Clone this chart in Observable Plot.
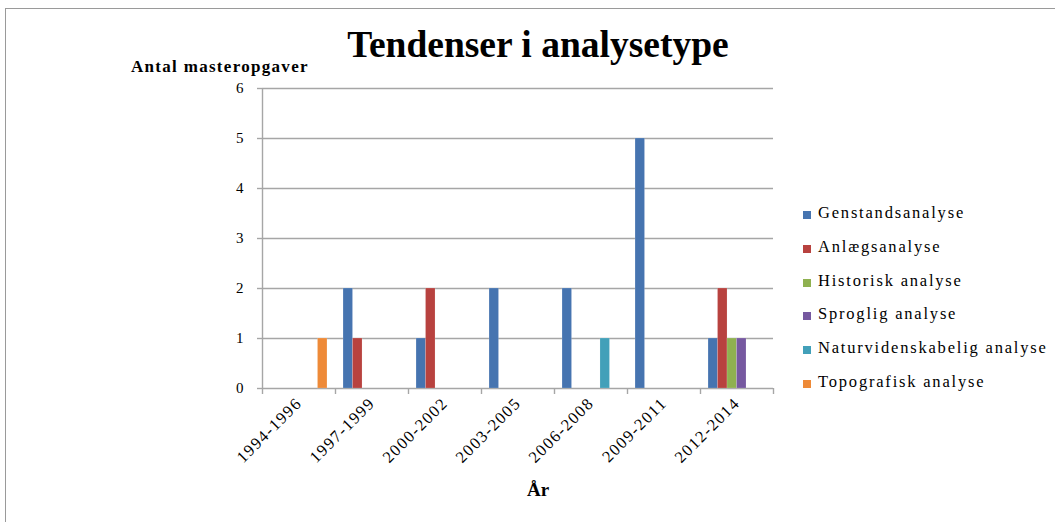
<!DOCTYPE html>
<html>
<head>
<meta charset="utf-8">
<script src="https://cdn.jsdelivr.net/npm/d3@7"></script>
<script src="https://cdn.jsdelivr.net/npm/@observablehq/plot@0.6"></script>
<style>
  html, body { margin: 0; padding: 0; background: #fff; }
  #wrap { position: relative; width: 1055px; height: 522px; overflow: hidden; font-family: "Liberation Serif", "Times New Roman", serif; color: #000; }
  #frame { position: absolute; left: 5px; top: 8px; width: 1100px; height: 600px; border-top: 1.5px solid #9a9a9a; border-left: 1.5px solid #9a9a9a; }
  #title { position: absolute; left: 0; width: 1076px; top: 23px; text-align: center; font-size: 37.5px; font-weight: bold; }
  #ylab { position: absolute; left: 131px; top: 57px; font-size: 17px; font-weight: bold; letter-spacing: 1.3px; }
  #xlab { position: absolute; left: 0; width: 1076px; top: 479px; text-align: center; font-size: 19px; font-weight: bold; }
  #legend { position: absolute; left: 803px; top: 203px; font-size: 16.5px; letter-spacing: 1.8px; }
  .li { height: 33.8px; display: flex; align-items: flex-start; white-space: nowrap; }
  .sw { width: 8px; height: 8px; margin-right: 7px; margin-top: 8px; }
  #chart { position: absolute; left: 0; top: 0; }
</style>
</head>
<body>
<div id="wrap">
  <div id="frame"></div>
  <div id="chart"></div>
  <div id="title">Tendenser i analysetype</div>
  <div id="ylab">Antal masteropgaver</div>
  <div id="xlab">År</div>
  <div id="legend"></div>
</div>
<script>
const periods = ["1994-1996", "1997-1999", "2000-2002", "2003-2005", "2006-2008", "2009-2011", "2012-2014"];
const seriesNames = ["Genstandsanalyse", "Anlægsanalyse", "Historisk analyse", "Sproglig analyse", "Naturvidenskabelig analyse", "Topografisk analyse"];
const colors = ["#4674b0", "#b8423f", "#8fb150", "#7659a0", "#42a0b9", "#ee8a38"];
const genstand = [0, 2, 1, 2, 2, 5, 1];
const anlaeg = [0, 1, 2, 0, 0, 0, 2];
const historisk = [0, 0, 0, 0, 0, 0, 1];
const sproglig = [0, 0, 0, 0, 0, 0, 1];
const naturvid = [0, 0, 0, 0, 1, 0, 0];
const topografisk = [1, 0, 0, 0, 0, 0, 0];
const yTicks = [0, 1, 2, 3, 4, 5, 6];

const values = [genstand, anlaeg, historisk, sproglig, naturvid, topografisk];
const nS = seriesNames.length;
const inset = 0.11;                 // gap on each side of a group, in category units
const bw = (1 - 2 * inset) / nS;    // width of one bar, in category units
const rows = [];
periods.forEach((p, i) => {
  values.forEach((arr, j) => {
    const v = arr[i];
    if (v > 0) rows.push({ period: p, series: seriesNames[j], value: v,
      x1: i + inset + j * bw, x2: i + inset + (j + 1) * bw });
  });
});

const chart = Plot.plot({
  width: 1055,
  height: 522,
  marginLeft: 262,
  marginRight: 282,
  marginTop: 88,
  marginBottom: 134,
  style: { fontFamily: "'Liberation Serif', 'Times New Roman', serif", fontSize: "15px", background: "transparent", color: "#000" },
  x: { type: "linear", domain: [0, periods.length], label: null },
  y: { domain: [0, 6], label: null },
  color: { domain: seriesNames, range: colors },
  marks: [
    Plot.ruleY(yTicks, { y: d => d, stroke: "#a6a6a6", strokeWidth: 1.4 }),
    Plot.ruleX([0], { stroke: "#a6a6a6", strokeWidth: 1.4 }),
    Plot.rectY(rows, { x1: "x1", x2: "x2", y1: 0, y2: "value", fill: "series", stroke: "#ffffff", strokeOpacity: 0.25, strokeWidth: 0.6 }),
    Plot.axisY({ ticks: yTicks, tickSize: 5, tickPadding: 14, stroke: "#a6a6a6", tickFormat: d => String(d), fontSize: 15, label: null }),
    Plot.axisX({ ticks: d3.range(periods.length + 1), tickSize: 6, tickFormat: () => "", stroke: "#a6a6a6", label: null }),
    Plot.axisX({ ticks: periods.map((p, i) => i + 0.5), tickSize: 0, tickPadding: 12, tickRotate: -45,
      tickFormat: d => periods[Math.round(d - 0.5)], fontSize: 16.5, label: null })
  ]
});
chart.querySelectorAll("[aria-label='x-axis tick'] path, [aria-label='y-axis tick'] path").forEach(p => p.setAttribute("stroke-width", 1.4));
chart.querySelectorAll("[aria-label='x-axis tick label'] text").forEach(t => t.setAttribute("letter-spacing", "1.4"));
document.getElementById("chart").appendChild(chart);

const lg = document.getElementById("legend");
seriesNames.forEach((s, j) => {
  const row = document.createElement("div");
  row.className = "li";
  const sw = document.createElement("span");
  sw.className = "sw";
  sw.style.background = colors[j];
  const t = document.createElement("span");
  t.textContent = s;
  row.appendChild(sw);
  row.appendChild(t);
  lg.appendChild(row);
});
</script>
</body>
</html>
